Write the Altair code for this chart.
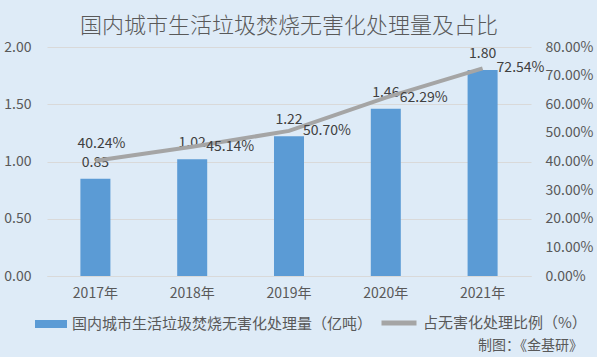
import altair as alt
import pandas as pd

years = ["2017年", "2018年", "2019年", "2020年", "2021年"]
amount = [0.85, 1.02, 1.22, 1.46, 1.80]
ratio = [0.4024, 0.4514, 0.5070, 0.6229, 0.7254]
bar_name = "国内城市生活垃圾焚烧无害化处理量（亿吨）"
line_name = "占无害化处理比例（%）"
title_text = "国内城市生活垃圾焚烧无害化处理量及占比"
source_text = "制图：《金基研》"

df = pd.DataFrame({"year": years, "amount": amount, "ratio": ratio})

FONT = "Noto Sans CJK SC"
TXT = "#595959"

x = alt.X("year:N", sort=years, title=None,
          scale=alt.Scale(paddingInner=0.69, paddingOuter=0.345),
          axis=alt.Axis(labelFontSize=14, labelColor=TXT, labelFont=FONT, ticks=False,
                        domainColor="#d9d9d9", labelPadding=10, labelAngle=0))

y_left = alt.Y("amount:Q", title=None,
               scale=alt.Scale(domain=[0, 2]),
               axis=alt.Axis(values=[0, 0.5, 1, 1.5, 2], format=".2f", labelFontSize=14,
                             labelColor=TXT, labelFont=FONT, ticks=False, domain=False,
                             gridColor="#d9d9d9", labelPadding=16))

y_right = alt.Y("ratio:Q", title=None,
                scale=alt.Scale(domain=[0, 0.8]),
                axis=alt.Axis(orient="right", values=[0, 0.1, 0.2, 0.3, 0.4, 0.5, 0.6, 0.7, 0.8],
                              format=".2%", labelFontSize=14, labelColor=TXT, labelFont=FONT,
                              ticks=False, domain=False, grid=False, labelPadding=14))

base = alt.Chart(df)

bars = base.mark_bar().encode(
    x=x, y=y_left,
    color=alt.Color("bname:N", scale=alt.Scale(domain=[bar_name], range=["#5b9bd5"]),
                    legend=alt.Legend(orient="none", legendX=-12, legendY=261, title=None,
                                      symbolType="M-1,-0.25H1V0.25H-1Z", symbolSize=1024,
                                      labelFontSize=15, labelColor=TXT, labelFont=FONT,
                                      labelOffset=5, symbolStrokeWidth=0, labelLimit=0)),
).transform_calculate(bname=f"'{bar_name}'")

bar_text = base.mark_text(dy=-16, fontSize=14, color="#404040", font=FONT).encode(
    x=x, y=y_left, text=alt.Text("amount:Q", format=".2f"))

line = base.mark_line(strokeWidth=4).encode(
    x=x, y=y_right,
    stroke=alt.Stroke("lname:N", scale=alt.Scale(domain=[line_name], range=["#a5a5a5"]),
                      legend=alt.Legend(orient="none", legendX=332, legendY=256, title=None,
                                        symbolType="stroke", symbolSize=1225, symbolStrokeWidth=5,
                                        labelFontSize=15, labelColor=TXT, labelFont=FONT,
                                        labelOffset=4, labelLimit=0)),
).transform_calculate(lname=f"'{line_name}'")

line_text_first = base.mark_text(dx=6, dy=-17, fontSize=14, color="#404040", font=FONT).encode(
    x=x, y=y_right, text=alt.Text("ratio:Q", format=".2%")
).transform_filter(alt.datum.year == years[0])

line_text_rest = base.mark_text(dx=14, align="left", fontSize=14, color="#404040", font=FONT).encode(
    x=x, y=y_right, text=alt.Text("ratio:Q", format=".2%")
).transform_filter(alt.datum.year != years[0])

src = alt.Chart(pd.DataFrame({"s": [source_text]})).mark_text(
    align="right", baseline="middle", fontSize=14, color=TXT, font=FONT
).encode(x=alt.value(536), y=alt.value(299), text="s:N")

left_layer = alt.layer(bars, bar_text)
right_layer = alt.layer(line, line_text_first, line_text_rest)

chart = alt.layer(left_layer, right_layer, src).resolve_scale(y="independent").properties(
    width=484, height=229,
    autosize=alt.AutoSizeParams(type="none"),
    padding={"left": 47, "top": 47, "right": 66, "bottom": 81},
    title=alt.TitleParams(title_text, fontSize=22, color=TXT, font=FONT, fontWeight=300,
                          anchor="middle", offset=2),
).configure(background="#deebf7").configure_view(stroke=None)

chart.save("out.html", embed_options={"renderer": "svg", "actions": False})
